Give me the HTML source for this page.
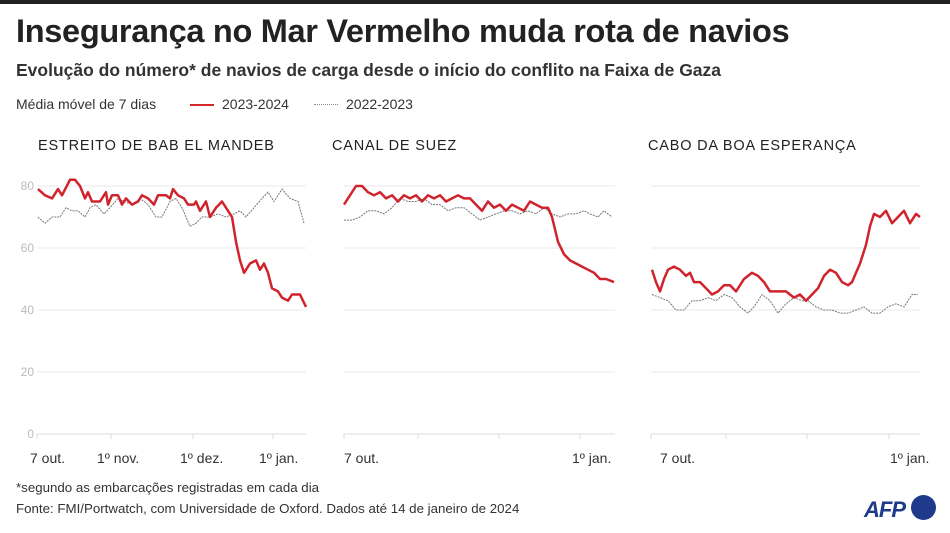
<!DOCTYPE html>
<html><head><meta charset="utf-8"><style>
body{margin:0;width:950px;height:533px;background:#fff;font-family:"Liberation Sans",sans-serif;overflow:hidden;position:relative}
.t{position:absolute;white-space:nowrap;color:#222}
</style></head><body>
<div style="position:absolute;left:0;top:0;width:950px;height:4px;background:#222"></div>
<div class="t" style="left:16px;top:13px;font-size:32.5px;font-weight:bold;letter-spacing:-0.3px">Insegurança no Mar Vermelho muda rota de navios</div>
<div class="t" style="left:16px;top:60px;font-size:17.5px;font-weight:bold;color:#333">Evolução do número* de navios de carga desde o início do conflito na Faixa de Gaza</div>
<div class="t" style="left:16px;top:96px;font-size:14px;color:#333">Média móvel de 7 dias</div>
<div style="position:absolute;left:190px;top:104px;width:24px;height:2px;background:#d6262e"></div>
<div class="t" style="left:222px;top:96px;font-size:14px;color:#333">2023-2024</div>
<div style="position:absolute;left:314px;top:104px;width:24px;border-top:1px dotted #888"></div>
<div class="t" style="left:346px;top:96px;font-size:14px;color:#333">2022-2023</div>
<div class="t" style="left:38px;top:138px;font-size:14.5px;letter-spacing:0.8px">ESTREITO DE BAB EL MANDEB</div>
<div class="t" style="left:332px;top:138px;font-size:14.5px;letter-spacing:0.8px">CANAL DE SUEZ</div>
<div class="t" style="left:648px;top:138px;font-size:14.5px;letter-spacing:0.8px">CABO DA BOA ESPERANÇA</div>
<svg id="s" width="950" height="533" style="position:absolute;left:0;top:0" font-family="Liberation Sans, sans-serif"></svg>
<div class="t" style="left:16px;top:480px;font-size:13.3px;color:#333">*segundo as embarcações registradas em cada dia</div>
<div class="t" style="left:16px;top:501px;font-size:13.3px;color:#333">Fonte: FMI/Portwatch, com Universidade de Oxford. Dados até 14 de janeiro de 2024</div>
<div class="t" style="left:864px;top:497px;font-size:22px;font-weight:bold;font-style:italic;color:#1f3a8a;letter-spacing:-1px">AFP</div>
<div style="position:absolute;left:911px;top:495px;width:25px;height:25px;border-radius:50%;background:#1f3a8a"></div>
<script>
const Y=v=>434-3.1*v;
let s='';
function grid(x0,x1,labels,ticks){
 [0,20,40,60,80].forEach(v=>{s+=`<line x1="${x0}" x2="${x1}" y1="${Y(v)}" y2="${Y(v)}" stroke="${v?'#e8e8e8':'#ddd'}" stroke-width="1"/>`;
 if(labels)s+=`<text x="${x0-3}" y="${Y(v)+4}" font-size="12" fill="#bbb" text-anchor="end">${v}</text>`;});
 ticks.forEach(x=>s+=`<line x1="${x}" x2="${x}" y1="434" y2="439" stroke="#ddd"/>`);
}
function line(p,red){let pts=[];for(let i=0;i<p.length;i+=2)pts.push(p[i]+','+Y(p[i+1]).toFixed(1));
 s+=red?`<polyline points="${pts.join(' ')}" fill="none" stroke="#d0232c" stroke-width="2.5" stroke-linejoin="round"/>`:`<polyline points="${pts.join(' ')}" fill="none" stroke="#777" stroke-width="1" stroke-dasharray="2,1"/>`;}
grid(37,306,true,[37,111,193,273]);grid(344,615,false,[344,418,499,580]);grid(651,920,false,[651,726,807,889]);
line([38,70,45,68,52,70,60,70,66,73,72,72,78,72,85,70,90,73,96,74,104,71,110,73,118,76,124,75,132,74,140,76,148,74,156,70,162,70,170,75,176,76,182,73,190,67,196,68,202,70,210,70,218,71,226,70,234,71,240,72,246,70,254,73,262,76,268,78,274,75,282,79,290,76,298,75,304,68]);
line([38,79,45,77,52,76,58,79,62,77,70,82,75,82,80,80,85,76,88,78,92,75,100,75,106,78,108,74,112,77,118,77,122,74,126,76,132,74,138,75,142,77,148,76,154,74,158,77,166,77,170,76,173,79,178,77,184,76,188,74,194,74,196,75,200,72,206,75,210,70,216,73,222,75,228,72,232,70,236,62,240,56,244,52,250,55,256,56,260,53,264,55,268,52,272,47,278,46,282,44,288,43,292,45,300,45,306,41],1);
line([344,69,352,69,360,70,368,72,376,72,384,71,392,73,400,76,408,75,416,75,424,76,432,74,440,74,448,72,456,73,464,73,472,71,480,69,488,70,496,71,504,72,512,72,520,71,528,72,536,71,544,73,552,71,560,70,568,71,576,71,584,72,590,71,598,70,604,72,612,70]);
line([344,74,350,77,356,80,362,80,368,78,374,77,380,78,386,76,392,77,398,75,404,77,410,76,416,77,422,75,428,77,434,76,440,77,446,75,452,76,458,77,464,76,470,76,476,74,482,72,488,75,494,73,500,74,506,72,512,74,518,73,524,72,530,75,536,74,542,73,548,73,552,70,558,62,564,58,570,56,576,55,582,54,588,53,594,52,600,50,606,50,614,49],1);
line([652,45,660,44,668,43,676,40,684,40,692,43,700,43,708,44,716,43,724,45,732,44,740,41,748,39,754,41,762,45,770,43,778,39,786,42,794,44,802,43,808,43,816,41,824,40,832,40,840,39,848,39,856,40,864,41,872,39,880,39,888,41,896,42,904,41,912,45,918,45]);
line([652,53,656,49,660,46,664,50,668,53,674,54,680,53,686,51,690,52,694,49,700,49,706,47,712,45,718,46,724,48,730,48,736,46,744,50,752,52,758,51,764,49,770,46,778,46,786,46,794,44,800,45,806,43,812,45,818,47,824,51,830,53,836,52,842,49,848,48,852,49,860,55,866,61,870,67,874,71,880,70,886,72,892,68,898,70,904,72,910,68,916,71,920,70],1);
[[30,'7 out.'],[97,'1º nov.'],[180,'1º dez.'],[259,'1º jan.'],[344,'7 out.'],[572,'1º jan.'],[660,'7 out.'],[890,'1º jan.']].forEach(([x,t])=>s+=`<text x="${x}" y="463" font-size="14" fill="#333">${t}</text>`);
document.getElementById('s').innerHTML=s;
</script>
</body></html>
